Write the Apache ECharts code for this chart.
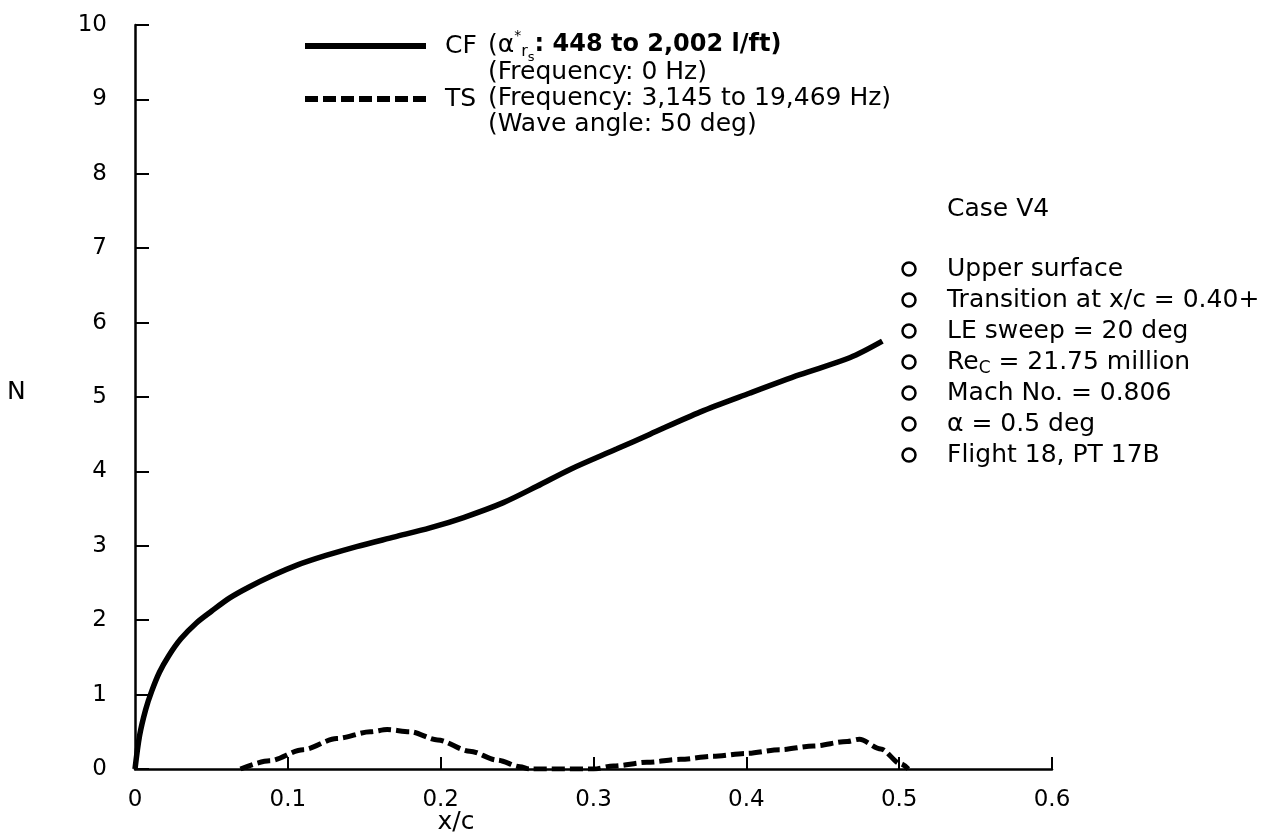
<!DOCTYPE html>
<html>
<head>
<meta charset="utf-8">
<script src="https://cdn.jsdelivr.net/npm/echarts@6/dist/echarts.min.js"></script>
<style>
  html, body { margin: 0; padding: 0; background: #fff; }
  #chart { width: 1266px; height: 833px; }
</style>
</head>
<body>
<div id="chart"></div>
<script>
// CF curve (crossflow), N vs x/c
const cfX = [0, 0.003, 0.007, 0.011, 0.016, 0.022, 0.03, 0.04, 0.05, 0.062, 0.075, 0.09, 0.106, 0.125, 0.145, 0.17, 0.193, 0.215, 0.241, 0.263, 0.285, 0.315, 0.337, 0.37, 0.402, 0.435, 0.468, 0.489];
const cfN = [0, 0.45, 0.8, 1.05, 1.3, 1.52, 1.75, 1.96, 2.12, 2.3, 2.45, 2.6, 2.74, 2.87, 2.99, 3.12, 3.24, 3.38, 3.58, 3.8, 4.03, 4.3, 4.5, 4.8, 5.05, 5.3, 5.53, 5.75];

// TS curve (Tollmien-Schlichting)
const tsX = [0.069, 0.088, 0.11, 0.132, 0.154, 0.165, 0.18, 0.198, 0.219, 0.237, 0.252, 0.258, 0.3, 0.313, 0.335, 0.357, 0.378, 0.4, 0.422, 0.444, 0.466, 0.474, 0.488, 0.501, 0.506];
const tsN = [0, 0.11, 0.26, 0.41, 0.5, 0.53, 0.5, 0.39, 0.24, 0.12, 0.03, 0, 0, 0.04, 0.09, 0.13, 0.17, 0.21, 0.26, 0.31, 0.37, 0.4, 0.27, 0.07, 0];

const xTicks = [0, 0.1, 0.2, 0.3, 0.4, 0.5, 0.6];
const yTicks = [0, 1, 2, 3, 4, 5, 6, 7, 8, 9, 10];

const caseNotes = [
  "Upper surface",
  "Transition at x/c = 0.40+",
  "LE sweep = 20 deg",
  ["Re", "C", " = 21.75 million"],
  "Mach No. = 0.806",
  "\u03b1 = 0.5 deg",
  "Flight 18, PT 17B"
];

const FONT = '"DejaVu Sans", sans-serif';
const FS = 25;
const ctx2d = document.createElement("canvas").getContext("2d");
function textW(t, font) {
  ctx2d.font = font;
  return ctx2d.measureText(t).width;
}

// lay out a row of text pieces [text, size, dy, weight]
function textRun(x, y, parts) {
  const out = [];
  let cx = x;
  parts.forEach(([t, size, dy, weight]) => {
    const font = (weight || "normal") + " " + size + "px " + FONT;
    out.push({
      type: "text", x: cx, y: y + (dy || 0),
      style: { text: t, font: font, fill: "#000", verticalAlign: "middle" }
    });
    cx += textW(t, font);
  });
  return out;
}

const chart = echarts.init(document.getElementById("chart"));

const pts = (xs, ys) => xs.map((x, i) => [x, ys[i]]);

const graphics = [];
graphics.push(...textRun(488, 45, [["(\u03b1", FS], ["*", 14, -9], ["r", 16, 7], ["s", 13, 13], [": 448 to 2,002 l/ft)", 24, 0, "bold"]]));
graphics.push(...textRun(488, 72, [["(Frequency: 0 Hz)", FS]]));
graphics.push(...textRun(488, 98, [["(Frequency: 3,145 to 19,469 Hz)", FS]]));
graphics.push(...textRun(488, 124, [["(Wave angle: 50 deg)", FS]]));
graphics.push(...textRun(947, 209, [["Case V4", FS]]));
caseNotes.forEach((note, i) => {
  const y = 269 + i * 31;
  graphics.push({
    type: "circle", shape: { cx: 909, cy: y, r: 6.5 },
    style: { fill: "none", stroke: "#000", lineWidth: 2.5 }
  });
  if (Array.isArray(note)) {
    graphics.push(...textRun(947, y, [[note[0], FS], [note[1], 17, 7], [note[2], FS]]));
  } else {
    graphics.push(...textRun(947, y, [[note, FS]]));
  }
});
graphics.push({
  type: "text", x: 7, y: 392,
  style: { text: "N", font: FS + "px " + FONT, fill: "#000", verticalAlign: "middle" }
});
graphics.push({
  type: "text", x: 456, y: 822,
  style: { text: "x/c", font: FS + "px " + FONT, fill: "#000", align: "center", verticalAlign: "middle" }
});

chart.setOption({
  backgroundColor: "#fff",
  animation: false,
  textStyle: { fontFamily: FONT, color: "#000" },
  grid: { left: 135, right: 214, top: 25, bottom: 64 },
  legend: {
    left: 297, top: 28, orient: "vertical",
    itemWidth: 121, itemHeight: 14, itemGap: 27,
    itemStyle: { opacity: 0 },
    lineStyle: { width: 6 },
    textStyle: { fontSize: FS, lineHeight: 26, color: "#000", padding: [0, 0, 0, 14] },
    data: ["CF", "TS"]
  },
  xAxis: {
    type: "value", min: 0, max: 0.6, interval: 0.1,
    axisLine: { lineStyle: { color: "#000", width: 2.5 } },
    axisTick: { inside: true, length: 12, lineStyle: { color: "#000", width: 2 } },
    axisLabel: {
      color: "#000", fontSize: 23, margin: 20,
      formatter: v => (v === 0 ? "0" : v.toFixed(1))
    },
    splitLine: { show: false }
  },
  yAxis: {
    type: "value", min: 0, max: 10, interval: 1,
    axisLine: { lineStyle: { color: "#000", width: 2.5 } },
    axisTick: { inside: true, length: 14, lineStyle: { color: "#000", width: 2 } },
    axisLabel: { color: "#000", fontSize: 23, margin: 28 },
    splitLine: { show: false }
  },
  graphic: graphics,
  series: [
    {
      name: "CF", type: "line", data: pts(cfX, cfN), symbol: "none",
      smooth: 0.3,
      itemStyle: { color: "#000" },
      lineStyle: { color: "#000", width: 5.5 }
    },
    {
      name: "TS", type: "line", data: pts(tsX, tsN), symbol: "none",
      smooth: 0.3, smoothMonotone: "x",
      itemStyle: { color: "#000" },
      lineStyle: { color: "#000", width: 5, type: [13, 5] }
    }
  ]
});
</script>
</body>
</html>
